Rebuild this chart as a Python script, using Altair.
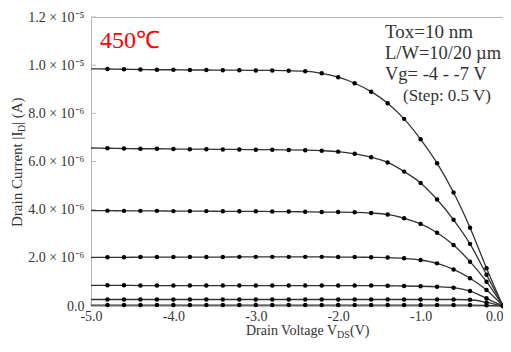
import json
import altair as alt
import pandas as pd

# ---- data (drain current in units of 1e-6 A) ----
vds = [-5.0, -4.8, -4.6, -4.4, -4.2, -4.0, -3.8, -3.6, -3.4, -3.2, -3.0, -2.8, -2.6,
       -2.4, -2.2, -2.0, -1.8, -1.6, -1.4, -1.2, -1.0, -0.8, -0.6, -0.4, -0.2, 0.0]

vg_labels = ["-7.0", "-6.5", "-6.0", "-5.5", "-5.0", "-4.5", "-4.0"]

id_vg70 = [9.85, 9.84, 9.83, 9.82, 9.81, 9.81, 9.80, 9.80, 9.79, 9.79, 9.78, 9.78, 9.77,
           9.75, 9.66, 9.50, 9.25, 8.90, 8.42, 7.77, 6.92, 5.93, 4.71, 3.25, 1.57, 0.0]
id_vg65 = [6.56, 6.55, 6.54, 6.53, 6.53, 6.52, 6.51, 6.51, 6.50, 6.50, 6.49, 6.49, 6.48,
           6.47, 6.45, 6.41, 6.32, 6.18, 5.96, 5.58, 5.11, 4.42, 3.58, 2.58, 1.30, 0.0]
id_vg60 = [3.96, 3.96, 3.95, 3.95, 3.95, 3.94, 3.94, 3.94, 3.93, 3.93, 3.93, 3.92, 3.92,
           3.91, 3.90, 3.90, 3.89, 3.86, 3.80, 3.64, 3.41, 3.04, 2.53, 1.84, 1.01, 0.0]
id_vg55 = [2.02, 2.02, 2.02, 2.03, 2.03, 2.03, 2.03, 2.03, 2.03, 2.04, 2.04, 2.04, 2.04,
           2.04, 2.04, 2.03, 2.03, 2.02, 2.01, 1.98, 1.91, 1.77, 1.52, 1.15, 0.66, 0.0]
id_vg50 = [0.86, 0.86, 0.86, 0.85, 0.85, 0.85, 0.85, 0.85, 0.85, 0.85, 0.85, 0.85, 0.85,
           0.85, 0.85, 0.85, 0.85, 0.85, 0.84, 0.83, 0.82, 0.80, 0.76, 0.62, 0.32, 0.0]
id_vg45 = [0.27, 0.27, 0.27, 0.27, 0.27, 0.27, 0.27, 0.27, 0.27, 0.27, 0.27, 0.27, 0.27,
           0.27, 0.27, 0.27, 0.27, 0.27, 0.27, 0.27, 0.27, 0.27, 0.27, 0.26, 0.15, 0.0]
id_vg40 = [0.04, 0.04, 0.04, 0.04, 0.04, 0.04, 0.04, 0.04, 0.04, 0.04, 0.04, 0.04, 0.04,
           0.04, 0.04, 0.04, 0.04, 0.04, 0.04, 0.04, 0.04, 0.04, 0.04, 0.04, 0.03, 0.0]

series = [id_vg70, id_vg65, id_vg60, id_vg55, id_vg50, id_vg45, id_vg40]

x_ticks = [-5.0, -4.0, -3.0, -2.0, -1.0, 0.0]
x_tick_labels = ["-5.0", "-4.0", "-3.0", "-2.0", "-1.0", "0.0"]
y_ticks = [0, 2, 4, 6, 8, 10, 12]
y_tick_labels = ["0.0", "2.0 × 10⁻⁶", "4.0 × 10⁻⁶", "6.0 × 10⁻⁶", "8.0 × 10⁻⁶",
                 "1.0 × 10⁻⁵", "1.2 × 10⁻⁵"]

info_lines = ["Tox=10 nm", "L/W=10/20 µm", "Vg= -4 - -7 V", "(Step: 0.5 V)"]
temp_label = "450℃"

# ---- build table ----
rows = []
for vg, vals in zip(vg_labels, series):
    for v, i in zip(vds, vals):
        rows.append({"vg": vg, "vds": v, "id": i})
df = pd.DataFrame(rows)
dots_df = df[df["vds"] > -5.0]

FONT = "Liberation Serif"
FRAME = "#b5b5b5"
W, H = 412, 289

xs = alt.Scale(domain=[-5.0, 0.0], nice=False, zero=False)
ys = alt.Scale(domain=[0, 12], nice=False)

x_axis = alt.Axis(values=x_ticks, labelExpr=f"{json.dumps(x_tick_labels)}[round(datum.value + 5)]",
                  domain=False, ticks=False, grid=False, labelFlush=False,
                  labelAlign={"condition": {"test": "datum.value >= 0", "value": "right"},
                              "value": "center"},
                  labelFont=FONT, labelFontSize=14, labelColor="#333333",
                  labelPadding=3, title=None)
y_axis = alt.Axis(values=y_ticks, labelExpr=f"{json.dumps(y_tick_labels)}[round(datum.value/2)]",
                  domain=False, ticks=False, grid=False, labelFlush=False,
                  labelFont=FONT, labelFontSize=14, labelColor="#333333",
                  labelPadding=7, title=None)

lines = alt.Chart(df).mark_line(color="#333333", strokeWidth=1.3, interpolate="monotone").encode(
    x=alt.X("vds:Q", scale=xs, axis=x_axis),
    y=alt.Y("id:Q", scale=ys, axis=y_axis),
    detail="vg:N",
)
dots = alt.Chart(dots_df).mark_circle(color="#000000", opacity=1, size=20).encode(
    x=alt.X("vds:Q", scale=xs),
    y=alt.Y("id:Q", scale=ys),
)

ytick_df = pd.DataFrame({"y": y_ticks})
yticks = alt.Chart(ytick_df).mark_rule(color=FRAME, strokeWidth=1).encode(
    x=alt.value(0), x2=alt.value(5), y=alt.Y("y:Q", scale=ys)
)
xtick_df = pd.DataFrame({"x": x_ticks})
xticks = alt.Chart(xtick_df).mark_rule(color=FRAME, strokeWidth=1).encode(
    x=alt.X("x:Q", scale=xs), y=alt.value(H), y2=alt.value(H - 5)
)

def txt(s, x, y, size, color="#333333", angle=0, align="left"):
    return alt.Chart(pd.DataFrame({"t": [s]})).mark_text(
        font=FONT, fontSize=size, color=color, align=align, baseline="alphabetic", angle=angle
    ).encode(text="t:N", x=alt.value(x), y=alt.value(y))

texts = [
    txt(temp_label, 9, 31, 24, color="#ff0000"),
    txt(info_lines[0], 294, 20.5, 19),
    txt(info_lines[1], 294, 42, 18.5),
    txt(info_lines[2], 294, 62.5, 18.5),
    txt(info_lines[3], 312, 83.5, 17),
    # x title: Drain Voltage V_DS(V)
    txt("Drain Voltage V", 246, 318, 14, align="right"),
    txt("DS", 246, 320.5, 10),
    txt("(V)", 259, 318, 14),
    # y title: Drain Current |I_D| (A)
    txt("Drain Current |I", -69, 210, 15, angle=270),
    txt("D", -66, 115, 10, angle=270),
    txt("| (A)", -69, 108, 15, angle=270),
]

chart = alt.layer(yticks, xticks, lines, dots, *texts).properties(
    width=W, height=H,
    autosize=alt.AutoSizeParams(type="none"),
    padding={"left": 83, "top": 9, "right": 0, "bottom": 33},
    background="white",
).configure_view(stroke=FRAME, strokeWidth=1)

chart.save("out.html", embed_options={"renderer": "svg", "actions": False})
